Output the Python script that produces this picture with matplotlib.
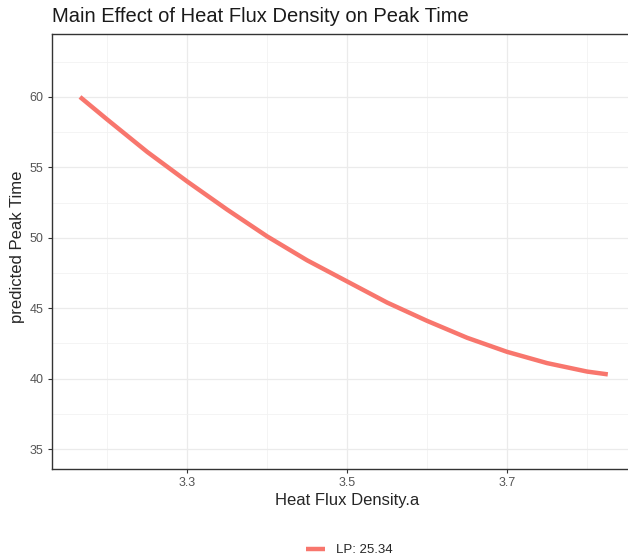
import numpy as np
import matplotlib
matplotlib.use('Agg')
import matplotlib.pyplot as plt
from matplotlib.ticker import MultipleLocator

# values
heat_flux = [3.166, 3.20, 3.25, 3.30, 3.35, 3.40, 3.45, 3.50, 3.55, 3.60, 3.65, 3.70, 3.75, 3.80, 3.826]
peak_time = [60.0, 58.4, 56.1, 54.0, 52.0, 50.1, 48.4, 46.9, 45.4, 44.1, 42.9, 41.9, 41.1, 40.5, 40.3]
x_ticks = [3.3, 3.5, 3.7]
y_ticks = [35, 40, 45, 50, 55, 60]
legend_label = 'LP: 25.34'

plt.rcParams['font.family'] = ['Liberation Sans', 'DejaVu Sans']

fig = plt.figure(figsize=(6.28, 5.6), dpi=100)
ax = fig.add_axes([52 / 628, 1 - 469 / 560, 591 / 628, 435 / 560])

ax.plot(heat_flux, peak_time, color='#F8766D', lw=3.2, solid_capstyle='butt', label=legend_label)

ax.set_xlim(3.131, 3.870)
ax.set_ylim(33.58, 64.47)
ax.set_xticks(x_ticks)
ax.set_yticks(y_ticks)
ax.xaxis.set_minor_locator(MultipleLocator(0.1))
ax.yaxis.set_minor_locator(MultipleLocator(2.5))
ax.grid(which='major', color='#ebebeb', lw=0.9)
ax.grid(which='minor', color='#f2f2f2', lw=0.6)
ax.set_axisbelow(True)
ax.tick_params(which='minor', length=0)
ax.tick_params(which='major', length=3, width=0.8, color='#333333',
               labelsize=9, labelcolor='#555555', pad=3)
for s in ax.spines.values():
    s.set_color('#333333')
    s.set_linewidth(1.0)

# axis titles placed by hand to follow the reference
fig.text(347 / 628, 1 - 500 / 560, 'Heat Flux Density.a', fontsize=12,
         color='#262626', ha='center', va='center')
fig.text(18 / 628, 1 - 247 / 560, 'predicted Peak Time', fontsize=12,
         color='#262626', ha='center', va='center', rotation=90)
fig.text(52 / 628, 1 - 16 / 560, 'Main Effect of Heat Flux Density on Peak Time',
         fontsize=14.5, color='#1a1a1a', va='center', ha='left')

fig.legend(loc='center', bbox_to_anchor=(349 / 628, 1 - 550 / 560), frameon=False,
           fontsize=9.5, handlelength=1.5, handletextpad=0.8, labelcolor='#262626')

fig.savefig('out.png', dpi=100)
